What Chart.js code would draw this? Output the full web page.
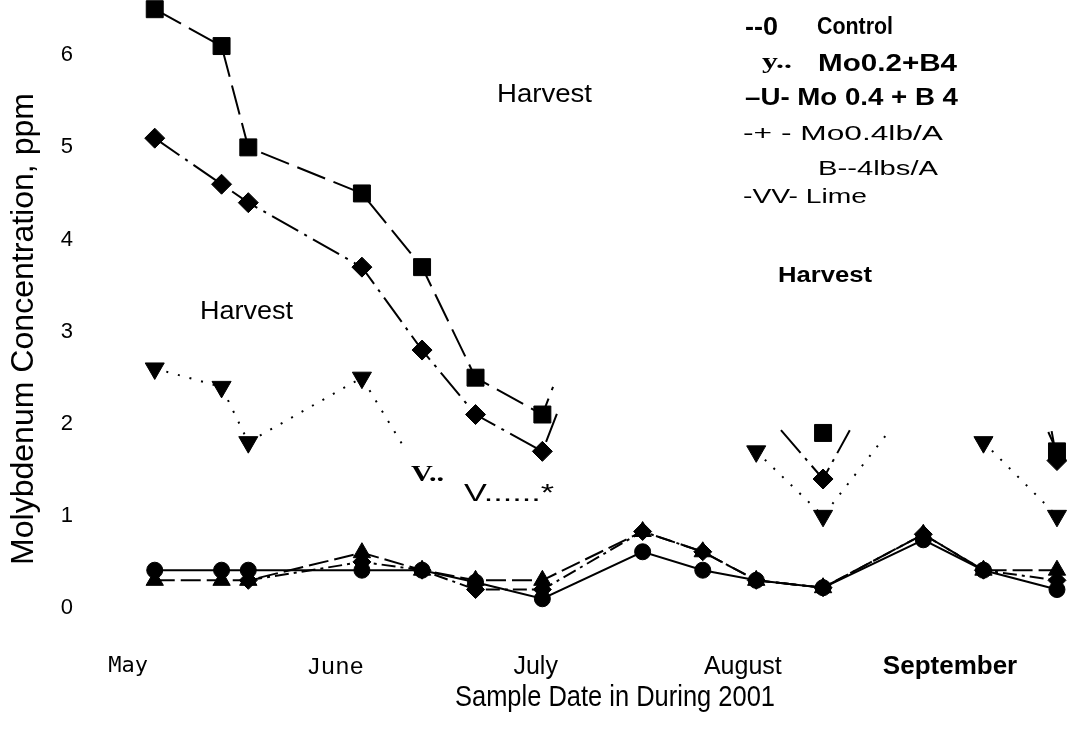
<!DOCTYPE html>
<html>
<head>
<meta charset="utf-8">
<title>Molybdenum Concentration 2001</title>
<script src="https://cdn.jsdelivr.net/npm/chart.js@4.4.1/dist/chart.umd.min.js"></script>
<style>
body { margin: 0; background: #fff; }
canvas { display: block; }
</style>
</head>
<body>
<canvas id="myChart" width="1067" height="742"></canvas>
<script>
// sample dates, counted in days after May 1 2001
var sampleDays = [4, 14, 18, 35, 44, 52, 62, 77, 86, 94, 104, 119, 128, 139];

// month ticks on the date axis
var monthDays = [0, 31, 61, 92, 123];
var monthNames = ["May", "June", "July", "August", "September"];
var yTicks = [0, 1, 2, 3, 4, 5, 6];

// Mo 0.4 + B 4 (squares). null = break in the line
var moB4Days   = [4, 14, 18, 35, 44, 52, 62, 63.6, 63.6, 104, 104, 137.7, 139];
var moB4Values = [6.5, 6.1, 5.0, 4.5, 3.7, 2.5, 2.1, 2.4, null, 1.9, null, 1.91, 1.7];

// Mo0.4lb/A B--4lbs/A (diamonds)
var mo4Days   = [4, 14, 18, 35, 44, 52, 62, 64.4, 64.4, 97.7, 104, 108, 108, 138.2, 139];
var mo4Values = [5.1, 4.6, 4.4, 3.7, 2.8, 2.1, 1.7, 2.15, null, 1.93, 1.4, 1.93, null, 1.92, 1.6];

// Mo0.2+B4 (down triangles)
var mo2Days   = [4, 14, 18, 35, 41, 41, 94, 104, 114, 114, 128, 139];
var mo2Values = [2.6, 2.4, 1.8, 2.5, 1.78, null, 1.7, 1.0, 1.93, null, 1.8, 1.0];

// Control (circles)
var controlValues = [0.41, 0.41, 0.41, 0.41, 0.41, 0.28, 0.1, 0.61, 0.41, 0.3, 0.22, 0.74, 0.41, 0.2];
// Lime (up triangles)
var limeValues = [0.3, 0.3, 0.3, 0.6, 0.41, 0.3, 0.3, 0.83, 0.61, 0.3, 0.22, 0.8, 0.41, 0.41];
// third low line in the bunch
var lowValues = [null, null, 0.3, 0.5, 0.41, 0.2, 0.2, 0.83, 0.61, 0.3, 0.22, 0.8, 0.41, 0.3];

function toPoints(days, values) {
  var pts = [];
  for (var i = 0; i < days.length; i++) {
    pts.push({x: days[i], y: values[i]});
  }
  return pts;
}

function series(days, values, shape, r, dash, rot) {
  return {
    data: toPoints(days, values),
    borderColor: '#000',
    backgroundColor: '#000',
    borderWidth: 2,
    borderDash: dash,
    pointStyle: shape,
    pointRotation: rot || 0,
    pointBackgroundColor: '#000',
    pointBorderColor: '#000',
    pointBorderWidth: 1,
    // marker only on real sample dates, line ends get none
    pointRadius: function(ctx) {
      var p = ctx.raw;
      return (p && sampleDays.indexOf(p.x) >= 0) ? r : 0;
    },
    tension: 0,
    spanGaps: false,
    clip: false,
    fill: false
  };
}

// text written on the plot (legend, notes, axis titles), x/y in canvas pixels
var labelBits = [
  {t: "--0", x: 745, y: 28, f: 'bold 25px "Liberation Sans"', w: 33},
  {t: "Control", x: 817, y: 28, f: 'bold 23px "Liberation Sans"', w: 76},
  {t: "y..", x: 762, y: 62, f: 'bold 22px "Liberation Serif"', w: 30},
  {t: "Mo0.2+B4", x: 818, y: 64, f: 'bold 24px "Liberation Sans"', w: 139},
  {t: "\u2013U- Mo 0.4 + B 4", x: 745, y: 98, f: 'bold 24px "Liberation Sans"', w: 213},
  {t: "-+ - Mo0.4lb/A", x: 743, y: 134, f: '21px "Liberation Sans"', w: 200},
  {t: "B--4lbs/A", x: 818, y: 169, f: '21px "Liberation Sans"', w: 120},
  {t: "-VV- Lime", x: 743, y: 197, f: '21px "Liberation Sans"', w: 124},
  {t: "Harvest", x: 497, y: 95, f: '26px "Liberation Sans"', w: 95},
  {t: "Harvest", x: 200, y: 312, f: '26px "Liberation Sans"', w: 93},
  {t: "Harvest", x: 778, y: 276, f: 'bold 22px "Liberation Sans"', w: 94},
  {t: "V..", x: 411, y: 475, f: 'bold 24px "Liberation Serif"', w: 33},
  {t: "V......*", x: 464, y: 494, f: '24px "Liberation Sans"', w: 90},
  {t: "Sample Date in During 2001", x: 455, y: 698, f: '30px "Liberation Sans"', w: 320},
  {t: "Molybdenum Concentration, ppm", x: 24, y: 565, f: '31px "Liberation Sans"', w: 472, rot: -Math.PI / 2}
];

var textPlugin = {
  id: 'plotText',
  afterDraw: function(chart) {
    var ctx = chart.ctx;
    labelBits.forEach(function(b) {
      ctx.save();
      ctx.font = b.f;
      var w = ctx.measureText(b.t).width;
      ctx.translate(b.x, b.y);
      if (b.rot) ctx.rotate(b.rot);
      ctx.scale(b.w / w, 1);
      ctx.textAlign = 'left';
      ctx.textBaseline = 'middle';
      ctx.fillStyle = '#000';
      ctx.fillText(b.t, 0, 0);
      ctx.restore();
    });
  }
};

var tickFonts = [
  {family: '"DejaVu Sans Mono", monospace', size: 22, lineHeight: 1.2},
  {family: '"Liberation Mono", monospace', size: 24, lineHeight: 1.2},
  {family: '"Liberation Sans", sans-serif', size: 25, lineHeight: 1.1},
  {family: '"Liberation Sans", sans-serif', size: 25, lineHeight: 1.1},
  {family: '"Liberation Sans", sans-serif', size: 26, weight: 'bold', lineHeight: 1.05}
];

Chart.defaults.color = '#000';

var ctx = document.getElementById("myChart").getContext("2d");
var myChart = new Chart(ctx, {
  type: 'line',
  data: {
    datasets: [
      series(moB4Days, moB4Values, 'rect', 12, [30, 9]),
      series(mo4Days, mo4Values, 'rectRot', 10, [30, 7, 3, 7]),
      series(mo2Days, mo2Values, 'triangle', 11, [2, 10], 180),
      series(sampleDays, controlValues, 'circle', 8, []),
      series(sampleDays, limeValues, 'triangle', 10, [20, 6]),
      series(sampleDays, lowValues, 'rectRot', 9, [14, 5, 3, 5])
    ]
  },
  options: {
    responsive: false,
    animation: false,
    events: [],
    layout: { padding: 0, autoPadding: false },
    plugins: {
      legend: { display: false },
      tooltip: { enabled: false }
    },
    scales: {
      x: {
        type: 'linear',
        min: -4.19,
        max: 140.5,
        grid: { display: false, drawTicks: false },
        border: { display: false },
        afterBuildTicks: function(scale) {
          scale.ticks = monthDays.map(function(d) { return {value: d}; });
        },
        afterFit: function(scale) { scale.height = 111; },
        ticks: {
          padding: 22,
          autoSkip: false,
          maxRotation: 0,
          color: '#000',
          callback: function(v, i) { return monthNames[i]; },
          font: function(c) { return tickFonts[c.index] || tickFonts[0]; }
        }
      },
      y: {
        min: -0.25,
        max: 6.6,
        grid: { display: false, drawTicks: false },
        border: { display: false },
        afterBuildTicks: function(scale) {
          scale.ticks = yTicks.map(function(v) { return {value: v}; });
        },
        afterFit: function(scale) {
          scale.width = 100;
          scale.paddingTop = 0;
          scale.paddingBottom = 0;
        },
        ticks: {
          padding: 27,
          color: '#000',
          font: { family: '"Liberation Sans", sans-serif', size: 22 }
        }
      }
    }
  },
  plugins: [textPlugin]
});
</script>
</body>
</html>
